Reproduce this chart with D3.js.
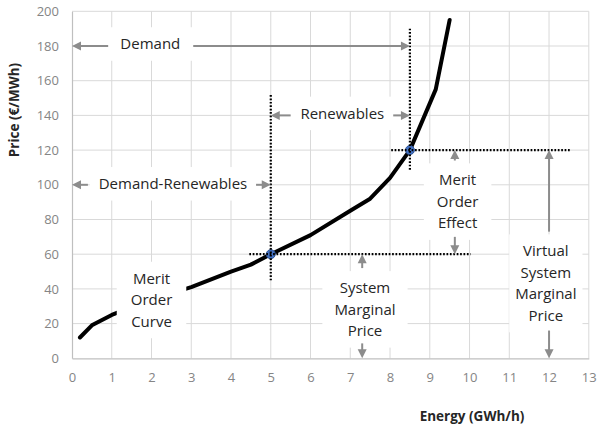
<!DOCTYPE html>
<html>
<head>
<meta charset="utf-8">
<script src="https://cdn.jsdelivr.net/npm/d3@7"></script>
<style>
  html, body { margin: 0; padding: 0; background: #fff; }
  svg { display: block; font-family: "Open Sans", "Noto Sans", sans-serif; }
</style>
</head>
<body>
<svg id="chart" width="597" height="426"></svg>
<script>
// Merit order curve: energy (GWh/h) vs. price (€/MWh)
const energy = [0.2, 0.5, 1, 2, 3, 4, 4.5, 5, 6, 7, 7.5, 8, 8.5, 9.15, 9.5];
const price  = [12, 19, 25, 34, 41, 50, 54, 60, 71, 85, 92, 104, 120, 155, 195];

// Operating points marked on the curve
const pointEnergy = [5, 8.5];
const pointPrice  = [60, 120];

// Axis ticks
const xTicks = [0, 1, 2, 3, 4, 5, 6, 7, 8, 9, 10, 11, 12, 13];
const yTicks = [0, 20, 40, 60, 80, 100, 120, 140, 160, 180, 200];

const svg = d3.select("#chart");
const m = { left: 72, right: 588.8, top: 11.3, bottom: 358.3 };

const x = d3.scaleLinear().domain([0, 13]).range([m.left, m.right]);
const y = d3.scaleLinear().domain([0, 200]).range([m.bottom, m.top]);

const GRID = "#d9d9d9", AXIS = "#bfbfbf", TICK = "#858585", ARROW = "#8c8c8c";

// Gridlines
svg.append("g").selectAll("line").data(xTicks.slice(1)).join("line")
  .attr("x1", d => x(d)).attr("x2", d => x(d))
  .attr("y1", y(0)).attr("y2", y(200))
  .attr("stroke", GRID).attr("stroke-width", 1);
svg.append("g").selectAll("line").data(yTicks.slice(1)).join("line")
  .attr("x1", x(0)).attr("x2", x(13))
  .attr("y1", d => y(d)).attr("y2", d => y(d))
  .attr("stroke", GRID).attr("stroke-width", 1);

// Axes
const xAxis = svg.append("g").attr("transform", `translate(0,${y(0)})`)
  .call(d3.axisBottom(x).tickValues(xTicks).tickSize(0).tickPadding(14));
const yAxis = svg.append("g").attr("transform", `translate(${x(0)},0)`)
  .call(d3.axisLeft(y).tickValues(yTicks).tickSize(0).tickPadding(13));
[xAxis, yAxis].forEach(a => {
  a.select(".domain").attr("stroke", AXIS).attr("stroke-width", 1.2);
  a.selectAll("text").attr("fill", TICK).attr("font-size", 13)
    .attr("font-family", "'Open Sans', sans-serif");
});

// Axis titles
svg.append("text")
  .attr("x", 472).attr("y", 421)
  .attr("text-anchor", "middle")
  .attr("font-size", 13.5).attr("font-weight", "bold").attr("fill", "#262626")
  .text("Energy (GWh/h)");
svg.append("text")
  .attr("transform", `translate(19,110) rotate(-90)`)
  .attr("text-anchor", "middle")
  .attr("font-size", 13.5).attr("font-weight", "bold").attr("fill", "#262626")
  .text("Price (€/MWh)");

// Merit order curve
const curvePts = energy.map((e, i) => [e, price[i]]);
svg.append("path")
  .datum(curvePts)
  .attr("d", d3.line().x(d => x(d[0])).y(d => y(d[1])))
  .attr("fill", "none").attr("stroke", "#000").attr("stroke-width", 4)
  .attr("stroke-linejoin", "round").attr("stroke-linecap", "round");

// Operating-point markers
svg.append("g").selectAll("circle").data(pointEnergy).join("circle")
  .attr("cx", d => x(d)).attr("cy", (d, i) => y(pointPrice[i]))
  .attr("r", 4.5).attr("fill", "#4472c4").attr("stroke", "#2f5597").attr("stroke-width", 1);

// Dotted guide lines
const guides = [
  [[8.5, 190], [8.5, 108]],
  [[8.03, 120], [12.53, 120]],
  [[5, 151.7], [5, 45]],
  [[4.46, 60], [10.03, 60]]
];
svg.append("g").selectAll("line").data(guides).join("line")
  .attr("x1", d => x(d[0][0])).attr("y1", d => y(d[0][1]))
  .attr("x2", d => x(d[1][0])).attr("y2", d => y(d[1][1]))
  .attr("stroke", "#000").attr("stroke-width", 2.2)
  .attr("stroke-dasharray", "1.7,1.7");

// Text labels with white backing boxes
const labels = [
  { lines: ["Demand"], cx: 1.97, cy: 180, dy: -2, padX: 13 },
  { lines: ["Renewables"], cx: 6.8, cy: 140, dy: -2, padX: 10 },
  { lines: ["Demand-Renewables"], cx: 2.54, cy: 100, dy: -1, padX: 9 },
  { lines: ["Merit", "Order", "Effect"], cx: 9.7, cy: 90.3, dy: 0, padX: 13 },
  { lines: ["System", "Marginal", "Price"], cx: 7.37, cy: 28.2, dy: 0, padX: 12 },
  { lines: ["Virtual", "System", "Marginal", "Price"], cx: 11.92, cy: 43.2, dy: 0, padX: 6 },
  { lines: ["Merit", "Order", "Curve"], cx: 2.0, cy: 33.6, dy: 0, padX: 14 }
];
const LH = 21.5;
const lg = svg.append("g");
labels.forEach(L => {
  const g = lg.append("g");
  const n = L.lines.length;
  const cxp = x(L.cx), cyp = y(L.cy) + L.dy;
  const t = g.append("text")
    .attr("text-anchor", "middle").attr("font-size", 15).attr("fill", "#262626");
  L.lines.forEach((s, i) => {
    t.append("tspan").attr("x", cxp)
      .attr("y", cyp + (i - (n - 1) / 2) * LH)
      .attr("dy", "0.35em").text(s);
  });
  const bb = t.node().getBBox();
  const h = n * LH + 12;
  g.insert("rect", "text")
    .attr("x", bb.x - L.padX).attr("width", bb.width + 2 * L.padX)
    .attr("y", cyp - h / 2).attr("height", h)
    .attr("fill", "#fff");
});

// Annotation arrows
const arrows = [
  [[0.91, 180], [0, 180]], [[3.05, 180], [8.5, 180]],
  [[5.5, 140], [5, 140]], [[8.08, 140], [8.5, 140]],
  [[0.4, 100], [0, 100]], [[4.63, 100], [5, 100]],
  [[9.63, 114], [9.63, 120]], [[9.63, 70], [9.63, 60]],
  [[7.3, 52], [7.3, 60]], [[7.3, 8.6], [7.3, 0]],
  [[12, 73], [12, 120]], [[12, 16], [12, 0]]
];
svg.append("g").selectAll("line").data(arrows).join("line")
  .attr("x1", d => x(d[0][0])).attr("y1", d => y(d[0][1]))
  .attr("x2", d => {
    const dx = x(d[1][0]) - x(d[0][0]);
    return x(d[1][0]) - Math.sign(dx) * 6;
  })
  .attr("y2", d => {
    const dy = y(d[1][1]) - y(d[0][1]);
    return y(d[1][1]) - Math.sign(dy) * 6;
  })
  .attr("stroke", ARROW).attr("stroke-width", 2);
svg.append("g").selectAll("path").data(arrows).join("path")
  .attr("d", d => {
    const x0 = x(d[0][0]), y0 = y(d[0][1]), x1 = x(d[1][0]), y1 = y(d[1][1]);
    const a = Math.atan2(y1 - y0, x1 - x0), L = 9, W = 4.5;
    const bx = x1 - L * Math.cos(a), by = y1 - L * Math.sin(a);
    const px = -Math.sin(a) * W, py = Math.cos(a) * W;
    return `M${x1},${y1}L${bx + px},${by + py}L${bx - px},${by - py}Z`;
  })
  .attr("fill", ARROW);
</script>
</body>
</html>
